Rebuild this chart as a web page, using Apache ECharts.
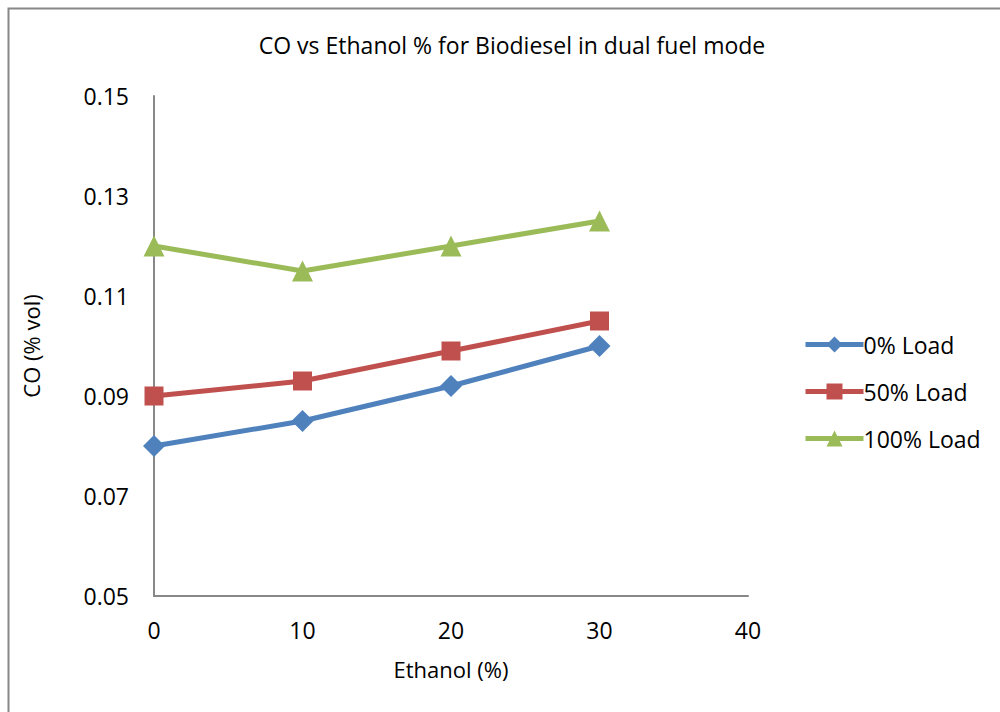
<!DOCTYPE html>
<html>
<head>
<meta charset="utf-8">
<script src="https://cdn.jsdelivr.net/npm/echarts@6/dist/echarts.min.js"></script>
<style>
  html, body { margin: 0; padding: 0; background: #fff; }
  #chart { width: 1000px; height: 712px; }
</style>
</head>
<body>
<div id="chart"></div>
<script>
(function() {
  var ethanol = [0, 10, 20, 30];
  var load0 = [0.080, 0.085, 0.092, 0.100];
  var load50 = [0.090, 0.093, 0.099, 0.105];
  var load100 = [0.120, 0.115, 0.120, 0.125];
  var seriesNames = ['0% Load', '50% Load', '100% Load'];

  var font = '"Open Sans", "Liberation Sans", sans-serif';

  function pairs(ys) {
    return ethanol.map(function(x, i) { return [x, ys[i]]; });
  }

  var chart = echarts.init(document.getElementById('chart'), null, { renderer: 'svg' });
  chart.setOption({
    animation: false,
    title: {
      text: 'CO vs Ethanol % for Biodiesel in dual fuel mode',
      left: 507,
      textAlign: 'center',
      top: 28,
      textStyle: { fontFamily: font, fontSize: 23, fontWeight: 'normal', color: '#000' }
    },
    graphic: [{
      type: 'rect',
      shape: { x: 8.5, y: 8.5, width: 1100, height: 800 },
      style: { fill: 'none', stroke: '#888', lineWidth: 2 },
      silent: true
    }],
    legend: {
      orient: 'vertical',
      left: 798,
      top: 328,
      itemGap: 24,
      itemWidth: 58,
      itemHeight: 20,
      data: seriesNames,
      lineStyle: { width: 5 },
      textStyle: { fontFamily: font, fontSize: 23, color: '#000', padding: [0, 0, 0, -5] }
    },
    grid: { left: 154, right: 252, top: 96, bottom: 116 },
    xAxis: {
      type: 'value',
      min: 0, max: 40, interval: 10,
      name: 'Ethanol (%)',
      nameLocation: 'middle',
      nameGap: 62,
      nameTextStyle: { fontFamily: font, fontSize: 22, color: '#000' },
      axisLine: { lineStyle: { color: '#888', width: 2 } },
      axisTick: { show: false },
      splitLine: { show: false },
      axisLabel: { fontFamily: font, fontSize: 23, color: '#000', margin: 22 }
    },
    yAxis: {
      type: 'value',
      min: 0.05, max: 0.15, interval: 0.02,
      name: 'CO (% vol)',
      nameLocation: 'middle',
      nameGap: 112,
      nameTextStyle: { fontFamily: font, fontSize: 22, color: '#000' },
      axisLine: { show: true, lineStyle: { color: '#888', width: 2 } },
      axisTick: { show: false },
      splitLine: { show: false },
      axisLabel: {
        fontFamily: font, fontSize: 23, color: '#000', margin: 25,
        formatter: function(v) { return v.toFixed(2); }
      }
    },
    series: [{
      name: seriesNames[0],
      type: 'line',
      data: pairs(load0),
      symbol: 'diamond',
      symbolSize: 22,
      lineStyle: { color: '#4F81BD', width: 5 },
      itemStyle: { color: '#4F81BD' }
    }, {
      name: seriesNames[1],
      type: 'line',
      data: pairs(load50),
      symbol: 'rect',
      symbolSize: 19,
      lineStyle: { color: '#C0504D', width: 5 },
      itemStyle: { color: '#C0504D' }
    }, {
      name: seriesNames[2],
      type: 'line',
      data: pairs(load100),
      symbol: 'triangle',
      symbolSize: 21,
      lineStyle: { color: '#9BBB59', width: 5 },
      itemStyle: { color: '#9BBB59' }
    }]
  });
  window.addEventListener('resize', function() { chart.resize(); });
})();
</script>
</body>
</html>
